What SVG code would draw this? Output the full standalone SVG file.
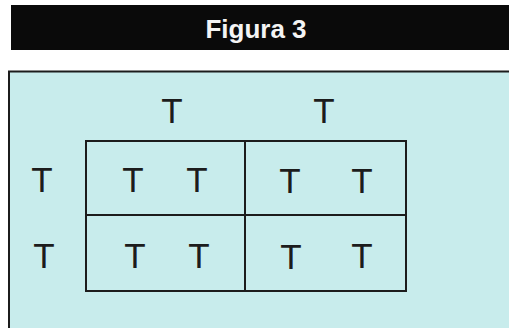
<svg xmlns="http://www.w3.org/2000/svg" width="509" height="328" viewBox="0 0 509 328">
<style>
.t{font-family:"Liberation Sans",Arial,sans-serif;font-size:35px;fill:#1c1c1c;text-anchor:middle}
.ln{fill:none;stroke:#1c1c1c;stroke-width:2}
</style>
<rect x="0" y="0" width="509" height="328" fill="#ffffff"/>
<g id="header">
<rect x="11" y="5" width="498" height="45" fill="#0a0a0a"/>
<text x="256" y="38" font-family="Liberation Sans,Arial,sans-serif" font-size="26" font-weight="bold" fill="#f4f4f4" text-anchor="middle">Figura 3</text>
</g>
<g id="panel">
<rect x="9" y="71" width="500" height="257" fill="#c8ecec"/>
<path class="ln" d="M9 328 V71.5 H509"/>
</g>
<g id="grid">
<rect class="ln" x="86" y="141" width="320" height="150"/>
<line class="ln" x1="86" y1="215" x2="406" y2="215"/>
<line class="ln" x1="245" y1="141" x2="245" y2="291"/>
</g>
<g id="labels">
<text class="t" x="172" y="123">T</text>
<text class="t" x="324" y="123">T</text>
<text class="t" x="42" y="192">T</text>
<text class="t" x="44" y="268">T</text>
<text class="t" x="133" y="192">T</text>
<text class="t" x="197" y="192">T</text>
<text class="t" x="290" y="193">T</text>
<text class="t" x="362" y="193">T</text>
<text class="t" x="135" y="268">T</text>
<text class="t" x="199" y="268">T</text>
<text class="t" x="291" y="269">T</text>
<text class="t" x="362" y="268">T</text>
</g>
</svg>
